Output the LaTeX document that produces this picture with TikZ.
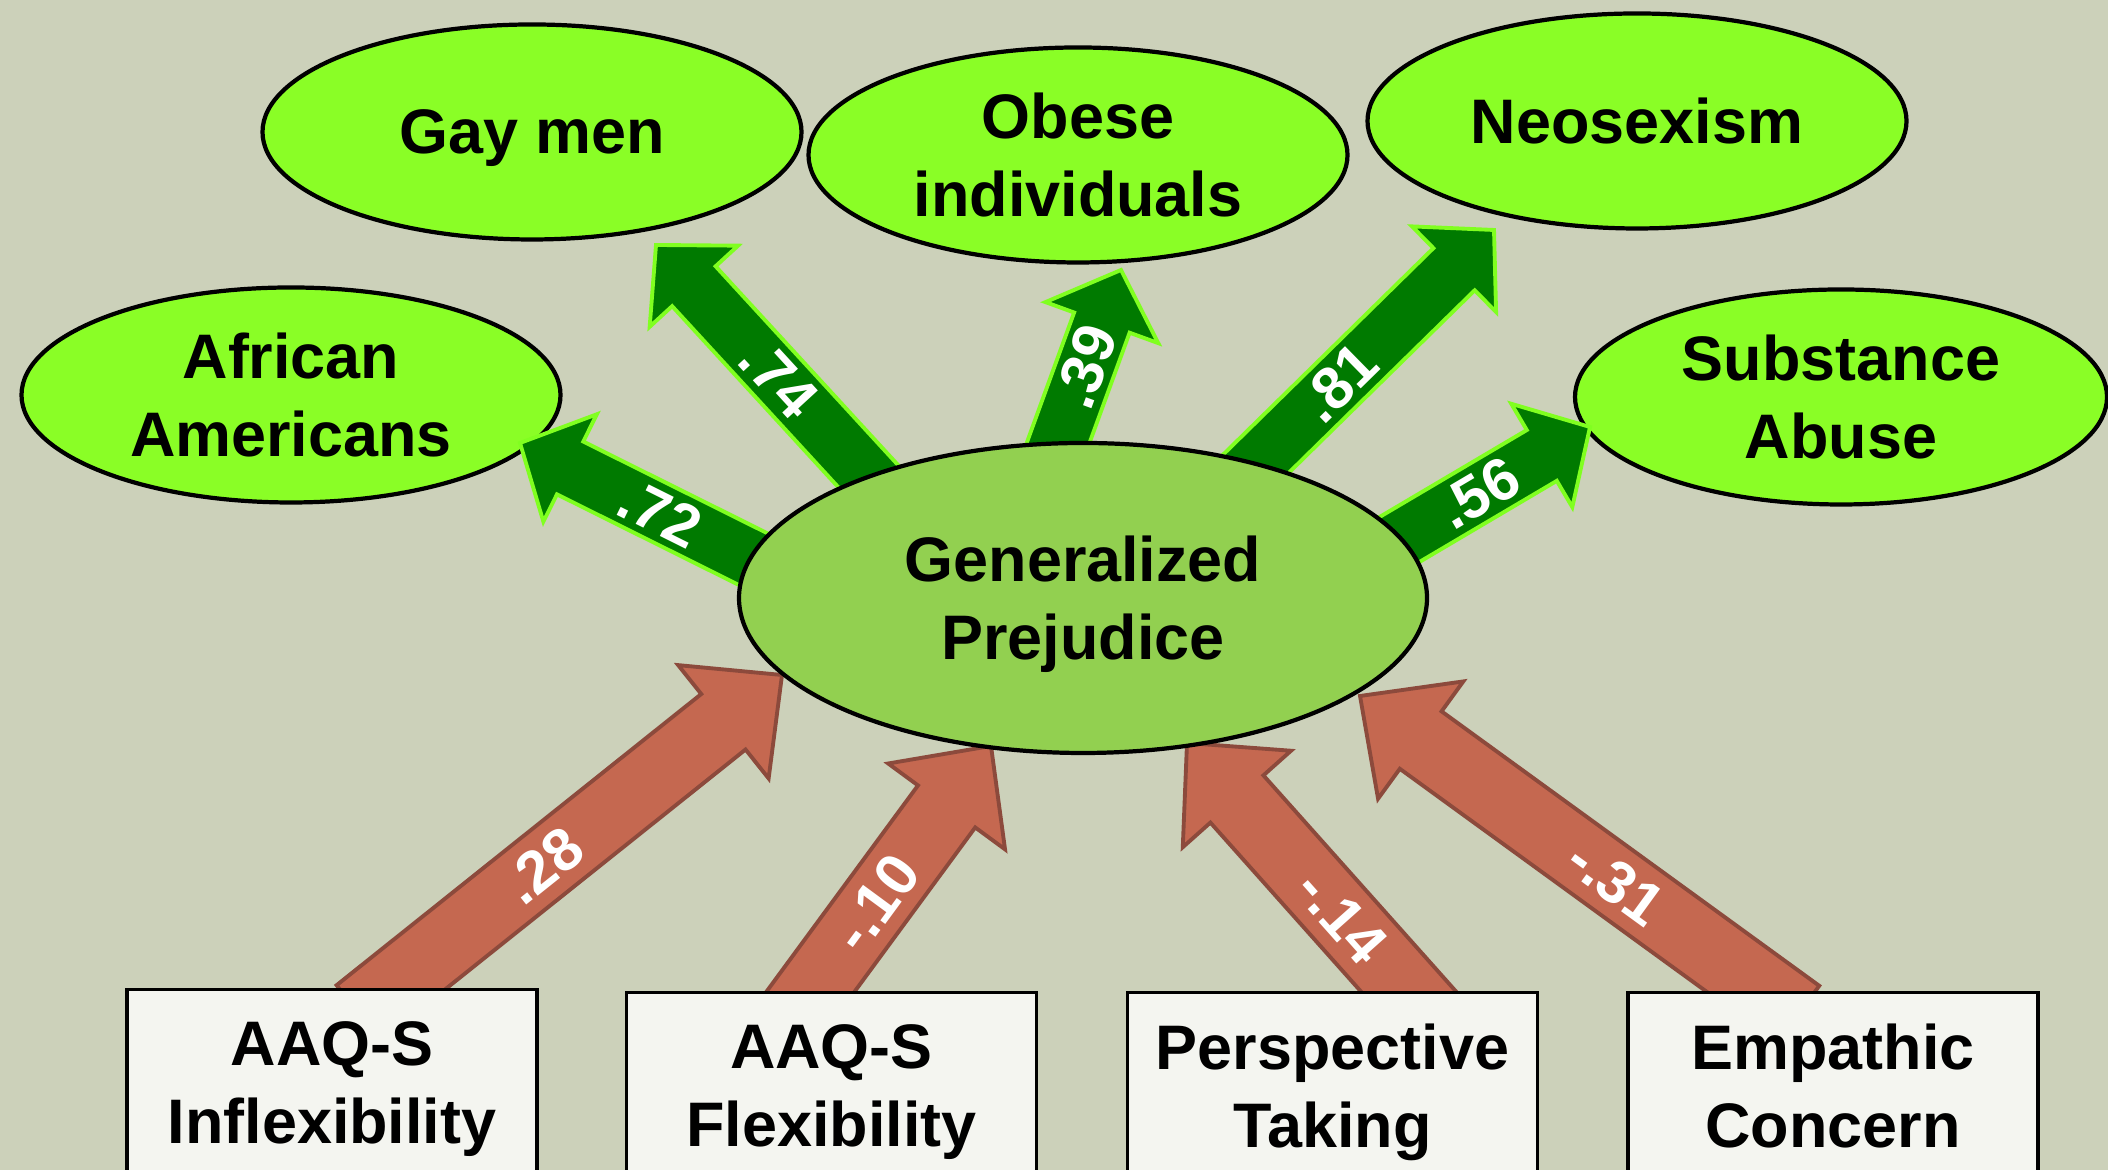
\documentclass[tikz,border=0pt]{standalone}
\usepackage{fontspec}
\setmainfont{Liberation Sans}
\usepackage{xcolor}
\usetikzlibrary{shapes.geometric, calc}

\definecolor{canvas}{RGB}{204,209,186}
\definecolor{lime}{RGB}{138,254,38}
\definecolor{gpgreen}{RGB}{146,208,80}
\definecolor{darkarrow}{RGB}{0,122,0}
\definecolor{lightedge}{RGB}{128,255,32}
\definecolor{brick}{RGB}{197,104,80}
\definecolor{brickedge}{RGB}{140,74,60}
\definecolor{paper}{RGB}{244,245,240}

\pgfdeclarelayer{back}
\pgfdeclarelayer{mid}
\pgfsetlayers{back,mid,main}

\newcommand{\nodefont}{\bfseries\fontsize{17.9pt}{22.2pt}\selectfont}
\newcommand{\fatarrow}[5]{%
  \coordinate (fa-s) at (#2);
  \coordinate (fa-e) at (#3);
  \coordinate (fa-b) at ($(fa-s)!-0.4cm!(fa-e)$);
  \coordinate (fa-h) at ($(fa-e)!\headl!(fa-s)$);
  \draw[#1] ($(fa-b)!\shaftw!90:(fa-e)$) -- ($(fa-h)!\shaftw!90:(fa-e)$)
    -- ($(fa-h)!\headw!90:(fa-e)$) -- (fa-e) -- ($(fa-h)!\headw!-90:(fa-e)$)
    -- ($(fa-h)!\shaftw!-90:(fa-e)$) -- ($(fa-b)!\shaftw!-90:(fa-e)$) -- cycle;
  \path (fa-s) -- (fa-e) node[coef, pos=#5, sloped] {#4};
}

\begin{document}
\begin{tikzpicture}
    \tikzstyle{outcome} = [ellipse, draw=black, line width=1.2pt, fill=lime, minimum width=5.39cm, minimum height=2.15cm, inner sep=0pt, align=center, font=\nodefont, text depth=0pt]
    \tikzstyle{latent} = [outcome, fill=gpgreen, minimum width=6.88cm, minimum height=3.10cm]
    \tikzstyle{measure} = [rectangle, draw=black, line width=0.9pt, fill=paper, minimum width=4.10cm, minimum height=1.86cm, anchor=north, align=center, font=\nodefont, text depth=0pt]
    \tikzstyle{pos arrow} = [fill=darkarrow, draw=lightedge, line width=1.1pt, line join=miter]
    \tikzstyle{neg arrow} = [fill=brick, draw=brickedge, line width=1.1pt, line join=miter]
    \tikzstyle{coef} = [text=white, font=\bfseries\fontsize{17pt}{20pt}\selectfont, inner sep=0pt]

    \useasboundingbox (0,0) rectangle (21.08,11.70);
    \clip (0,0) rectangle (21.08,11.70);

    \begin{pgfonlayer}{back}
        \fill[canvas] (0,0) rectangle (21.08,11.70);
        \node (aa) [outcome] at (2.91,7.75) {African\\Americans};
        \node (gm) [outcome] at (5.32,10.38) {Gay men};
        \node (ob) [outcome] at (10.78,10.15) {Obese\\individuals};
        \node (ns) [outcome] at (16.37,10.49) {Neosexism};
        \node (sa) [outcome, minimum width=5.32cm] at (18.41,7.73) {Substance\\Abuse};
    \end{pgfonlayer}

    \node (gp) [latent] at (10.83,5.72) {Generalized\\Prejudice};

    \node (inflex) [measure] at (3.32,1.82) {AAQ-S\\Inflexibility};
    \node (flex) [measure] at (8.315,1.79) {AAQ-S\\Flexibility};
    \node (persp) [measure] at (13.325,1.79) {Perspective\\Taking};
    \node (empath) [measure] at (18.33,1.79) {Empathic\\Concern};

    \begin{pgfonlayer}{mid}
        \def\shaftw{0.295cm}\def\headw{0.60cm}\def\headl{0.56cm}
        \fatarrow{pos arrow}{$(gp)+(-2.88,0.18)$}{$(aa)+(2.29,-0.48)$}{.72}{0.49}
        \fatarrow{pos arrow}{$(gp)+(-1.81,0.85)$}{$(gm)+(1.24,-1.13)$}{.74}{0.50}
        \fatarrow{pos arrow}{$(gp)+(-0.42,1.08)$}{$(ob)+(0.43,-1.15)$}{.39}{0.56}
        \fatarrow{pos arrow}{$(gp)+(1.38,1.00)$}{$(ns)+(-1.43,-1.09)$}{.81}{0.43}
        \fatarrow{pos arrow}{$(gp)+(2.75,0.34)$}{$(sa)+(-2.51,-0.30)$}{.56}{0.52}

        \def\shaftw{0.355cm}\def\headw{0.725cm}\def\headl{0.75cm}
        \fatarrow{neg arrow}{$(inflex.north)+(0.58,0)$}{$(gp)+(-3.01,-0.77)$}{.28}{0.39}
        \fatarrow{neg arrow}{$(flex.north)+(-0.205,0)$}{$(gp)+(-0.92,-1.48)$}{-.10}{0.36}
        \fatarrow{neg arrow}{$(persp.north)+(0.755,0)$}{$(gp)+(1.04,-1.45)$}{-.14}{0.30}
        \fatarrow{neg arrow}{$(empath.north)+(-0.67,0)$}{$(gp)+(2.77,-0.98)$}{-.31}{0.37}
    \end{pgfonlayer}
\end{tikzpicture}
\end{document}
